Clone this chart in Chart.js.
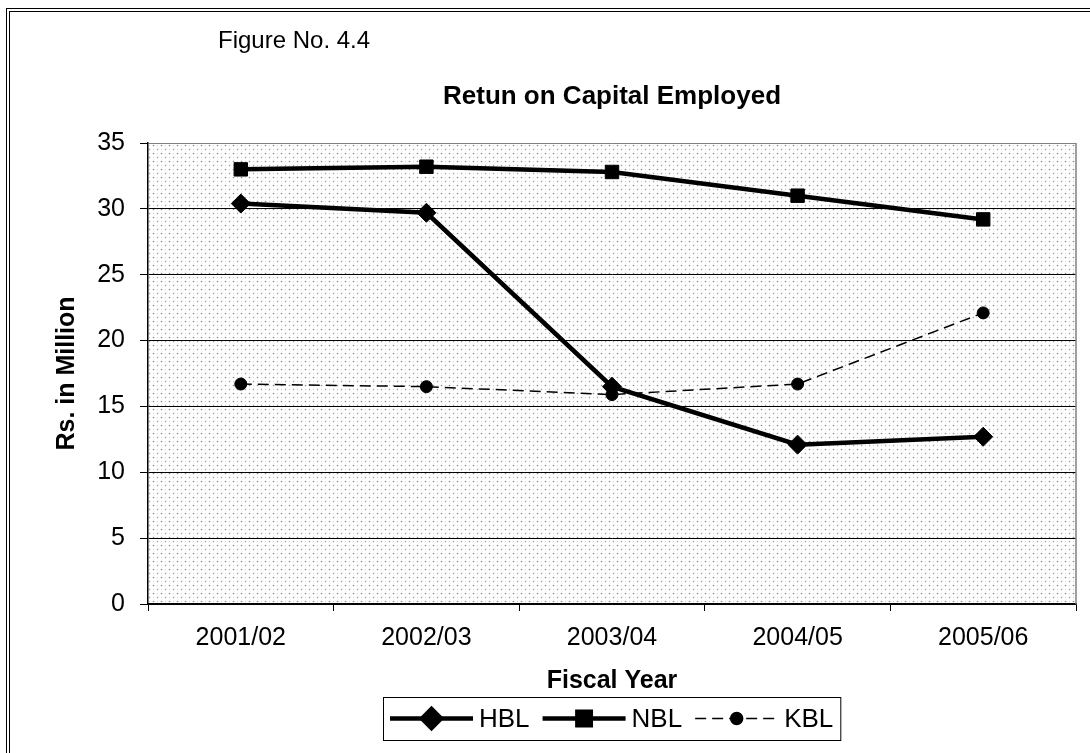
<!DOCTYPE html>
<html lang="en">
<head>
<meta charset="UTF-8">
<title>Retun on Capital Employed</title>
<script src="https://cdn.jsdelivr.net/npm/chart.js@4.4.1/dist/chart.umd.min.js"></script>
<style>
  * { margin: 0; padding: 0; box-sizing: border-box; }
  html, body { width: 1090px; height: 753px; overflow: hidden; background: #fff; }
  .frame { position: absolute; left: 6px; top: 8px; width: 1200px; height: 900px; border-left: 4px double #000; border-top: 4px double #000; }
  #chart { position: absolute; left: 0; top: 0; }
</style>
</head>
<body>
<div class="frame"></div>
<canvas id="chart" width="1090" height="753"></canvas>
<script>
const years = ['2001/02', '2002/03', '2003/04', '2004/05', '2005/06'];
const hbl = [30.4, 29.7, 16.5, 12.1, 12.7];
const nbl = [33.0, 33.2, 32.8, 31.0, 29.2];
const kbl = [16.7, 16.5, 15.9, 16.7, 22.1];
const yTicks = [0, 5, 10, 15, 20, 25, 30, 35];

const FONT = '"Liberation Sans", Arial, sans-serif';
Chart.defaults.font.family = FONT;
Chart.defaults.color = '#000';

// dotted tile for the plot background: staggered grey dots with soft edges
function dotPattern(ctx) {
  const tile = document.createElement('canvas');
  tile.width = 8; tile.height = 8;
  const t = tile.getContext('2d');
  t.fillStyle = '#fff';
  t.fillRect(0, 0, 8, 8);
  const dots = [
    [1, 1, '#8c8c8c'], [0, 1, '#e0e0e0'], [2, 1, '#e0e0e0'], [1, 0, '#ececec'], [1, 2, '#ececec'],
    [5, 5, '#a6a6a6'], [5, 4, '#e4e4e4'], [5, 6, '#e4e4e4'], [4, 5, '#eeeeee'], [6, 5, '#eeeeee'],
    [5, 1, '#d2d2d2'], [1, 5, '#cccccc']
  ];
  dots.forEach(([x, y, c]) => { t.fillStyle = c; t.fillRect(x, y, 1, 1); });
  return ctx.createPattern(tile, 'repeat');
}

const decorations = {
  id: 'decorations',
  beforeDraw(chart) {
    const { ctx, chartArea: a } = chart;
    ctx.save();
    ctx.fillStyle = dotPattern(ctx);
    ctx.fillRect(a.left, a.top, a.right - a.left, a.bottom - a.top);
    ctx.restore();
  },
  beforeDatasetsDraw(chart) {
    const { ctx, chartArea: a } = chart;
    ctx.save();
    ctx.strokeStyle = '#808080';
    ctx.lineWidth = 1.5;
    ctx.beginPath();
    ctx.moveTo(a.right, a.top);
    ctx.lineTo(a.right, a.bottom);
    ctx.stroke();
    ctx.restore();
  },
  afterDraw(chart) {
    const { ctx, chartArea: a } = chart;
    const cx = (a.left + a.right) / 2;
    ctx.save();
    ctx.fillStyle = '#000';
    ctx.textBaseline = 'alphabetic';

    ctx.font = '24px ' + FONT;
    ctx.textAlign = 'left';
    ctx.fillText('Figure No. 4.4', 218, 48);

    ctx.font = 'bold 26px ' + FONT;
    ctx.textAlign = 'center';
    ctx.fillText('Retun on Capital Employed', cx, 104);

    // legend: line + marker + label for each series, boxed
    ctx.font = '26px ' + FONT;
    const sets = chart.data.datasets;
    const lineLen = 83, gapText = 6, gapItem = 13, padX = 7;
    const widths = sets.map(d => ctx.measureText(d.label).width);
    const total = padX * 2 + widths.reduce((s, w) => s + lineLen + gapText + w, 0) + gapItem * (sets.length - 1);
    const top = 697, bottom = 740, cy = (top + bottom) / 2;
    let x = Math.round(cx - total / 2);
    ctx.strokeStyle = '#000';
    ctx.lineWidth = 1;
    ctx.strokeRect(x + 0.5, top + 0.5, total, bottom - top);
    x += padX;
    sets.forEach((d, i) => {
      ctx.strokeStyle = '#000';
      ctx.lineWidth = d.borderWidth;
      ctx.setLineDash(d.borderDash || []);
      ctx.beginPath();
      ctx.moveTo(x, cy);
      ctx.lineTo(x + lineLen, cy);
      ctx.stroke();
      ctx.setLineDash([]);
      ctx.fillStyle = '#000';
      Chart.helpers.drawPoint(ctx, {
        pointStyle: d.pointStyle, radius: d.pointRadius, rotation: 0, borderWidth: 1
      }, x + lineLen / 2, cy);
      ctx.textAlign = 'left';
      ctx.textBaseline = 'middle';
      ctx.fillText(d.label, x + lineLen + gapText, cy + 1);
      x += lineLen + gapText + widths[i] + gapItem;
    });
    ctx.restore();
  }
};

new Chart(document.getElementById('chart'), {
  type: 'line',
  data: {
    labels: years,
    datasets: [
      {
        label: 'HBL', data: hbl,
        borderColor: '#000', backgroundColor: '#000', borderWidth: 4.5,
        pointStyle: 'rectRot', pointRadius: 9.5, pointBorderWidth: 1
      },
      {
        label: 'NBL', data: nbl,
        borderColor: '#000', backgroundColor: '#000', borderWidth: 4.5,
        pointStyle: 'rect', pointRadius: 9.5, pointBorderWidth: 1
      },
      {
        label: 'KBL', data: kbl,
        borderColor: '#000', backgroundColor: '#000', borderWidth: 1.5, borderDash: [11, 6],
        pointStyle: 'circle', pointRadius: 6, pointBorderWidth: 1
      }
    ]
  },
  options: {
    responsive: false,
    animation: false,
    layout: { padding: { left: 0, right: 14, top: 143, bottom: 0 } },
    plugins: { legend: { display: false }, title: { display: false }, tooltip: { enabled: false } },
    elements: { line: { tension: 0 } },
    scales: {
      x: {
        offset: true,
        afterFit(scale) { scale.height = 149; },
        grid: { display: true, drawOnChartArea: false, offset: true, tickLength: 7, tickColor: '#000', tickWidth: 1 },
        border: { display: true, color: '#000', width: 1.5 },
        ticks: { font: { size: 25 }, padding: 12, maxRotation: 0 },
        title: { display: true, text: 'Fiscal Year', font: { size: 25, weight: 'bold' }, padding: { top: 0, bottom: 57 } }
      },
      y: {
        min: 0, max: 35,
        afterFit(scale) { scale.width = 148; },
        afterBuildTicks(scale) { scale.ticks = yTicks.map(v => ({ value: v })); },
        grid: {
          color: ctx => (ctx.tick && ctx.tick.value === 35 ? '#808080' : '#000'),
          lineWidth: 1, tickLength: 8, tickColor: '#000', tickWidth: 1
        },
        border: { display: true, color: '#000', width: 1.5 },
        ticks: { font: { size: 25 }, padding: 15 },
        title: { display: true, text: 'Rs. in Million', font: { size: 25, weight: 'bold' }, padding: { top: 52, bottom: 0 } }
      }
    }
  },
  plugins: [decorations]
});
</script>
</body>
</html>
